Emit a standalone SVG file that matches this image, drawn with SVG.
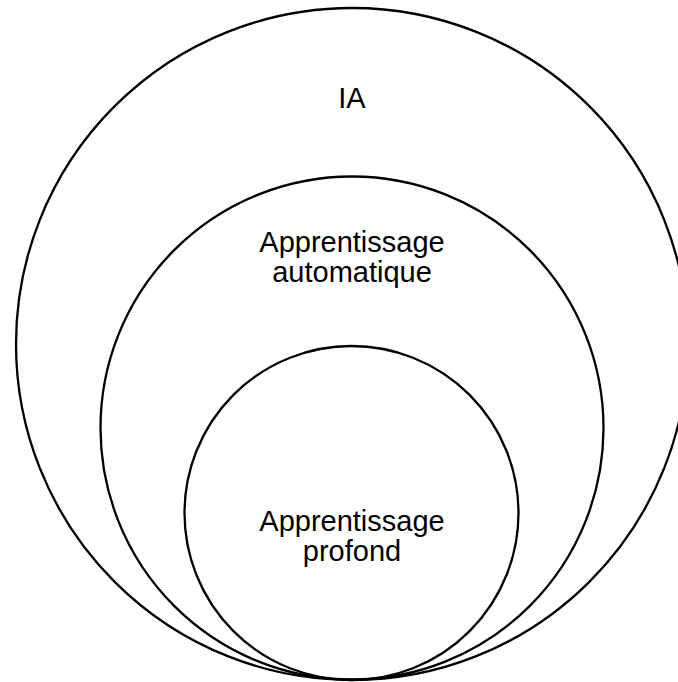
<svg xmlns="http://www.w3.org/2000/svg" width="678" height="682" viewBox="0 0 678 682">
<style>
.c{fill:none;stroke:#000;stroke-width:2.3}
.t{font-family:"Liberation Sans",Arial,sans-serif;font-size:29px;fill:#000;text-anchor:middle}
</style>
<rect width="678" height="682" fill="#fff"/>
<g id="ia">
<circle class="c" cx="352" cy="344" r="336"/>
<text class="t" x="352" y="108">IA</text>
</g>
<g id="apprentissage-automatique">
<circle class="c" cx="352" cy="428" r="251.5"/>
<text class="t" x="352" y="252">Apprentissage</text>
<text class="t" x="352" y="282">automatique</text>
</g>
<g id="apprentissage-profond">
<circle class="c" cx="351.5" cy="513" r="167"/>
<text class="t" x="352" y="531">Apprentissage</text>
<text class="t" x="352" y="561">profond</text>
</g>
<g id="connectors"/>
</svg>
